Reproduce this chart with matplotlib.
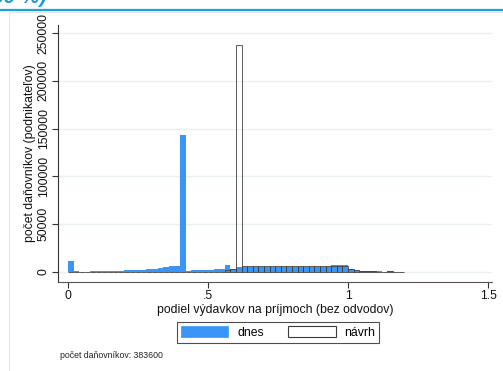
import numpy as np
import matplotlib
matplotlib.use("Agg")
import matplotlib.pyplot as plt
from matplotlib.patches import Rectangle, Patch
from matplotlib.lines import Line2D

plt.rcParams['font.family'] = ['Liberation Sans', 'DejaVu Sans']

# Histogram bins (left edges), width 0.02
bin_width = 0.02
bin_left = np.round(np.arange(0.0, 1.20, bin_width), 2)

# Number of taxpayers per bin – current rules ("dnes")
dnes = [
    11800, 1200, 300, 300, 900, 900, 1000, 1100, 1300, 1500,
    1700, 1900, 2200, 2600, 3000, 3600, 4300, 5000, 5800, 6800,
    143000, 1500, 1600, 1800, 2000, 2400, 2900, 3300, 7000, 3000,
    5000, 5600, 5500, 5600, 5700, 5600, 5500, 5600, 5700, 5600,
    5600, 5700, 5600, 5600, 5700, 5600, 5700, 7200, 7200, 7200,
    3000, 2000, 1200, 800, 800, 600, 300, 900, 300, 0,
]

# Number of taxpayers per bin – proposal ("návrh")
navrh = [
    0, 0, 0, 0, 0, 0, 0, 0, 0, 0,
    0, 0, 0, 0, 0, 0, 0, 0, 0, 0,
    0, 0, 0, 0, 0, 0, 0, 0, 2500, 3000,
    238000, 5800, 5900, 5800, 5900, 5800, 5900, 5800, 5900, 5800,
    5900, 5800, 5900, 5800, 5900, 5800, 5900, 5800, 5900, 5800,
    2800, 1800, 1000, 800, 800, 500, 300, 900, 300, 0,
]

x_ticks = [0, 0.5, 1, 1.5]
x_tick_labels = ["0", ".5", "1", "1.5"]
y_ticks = [0, 50000, 100000, 150000, 200000, 250000]
y_tick_labels = [str(v) for v in y_ticks]

total_note = "počet daňovníkov: 383600"

W, H = 503, 371
fig = plt.figure(figsize=(W / 100, H / 100), dpi=100)
fig.patch.set_facecolor("white")

# Page header: heading running off the top edge, and the blue rule
fig.text(47 / W, 1 - 3 / H, "60 %)", ha="right", va="baseline",
         color="#1a9ad6", fontsize=15, fontstyle="italic", fontweight="bold")
fig.add_artist(Line2D([0, 1], [1 - 9.5 / H, 1 - 9.5 / H], transform=fig.transFigure,
                      color="#1ba1de", lw=1.6))
fig.add_artist(Rectangle((9 / W, -0.01), 1.0, 1 - 12 / H + 0.01, transform=fig.transFigure,
                         fill=False, edgecolor="#e4e6e8", lw=0.8))

ax = fig.add_axes([58 / W, 1 - 282 / H, 434 / W, (282 - 25) / H])
ax.set_facecolor("none")

blue = "#3a96f6"
fs = 8.8
ax.bar(bin_left, dnes, width=bin_width, align="edge", color=blue, edgecolor="none", zorder=2)
ax.bar(bin_left, navrh, width=bin_width, align="edge", facecolor="none",
       edgecolor="#404040", linewidth=0.6, zorder=3)

ax.set_xlim(-0.036, 1.514)
ax.set_ylim(-10460, 258400)

ax.set_xticks(x_ticks)
ax.set_xticklabels(x_tick_labels)
ax.set_yticks(y_ticks)
ax.set_yticklabels(y_tick_labels, rotation=90, va="center")

ax.grid(axis="y", color="#e8f0f1", lw=1.0, zorder=0)
ax.set_axisbelow(True)
for side in ("top", "right"):
    ax.spines[side].set_visible(False)
ax.spines["left"].set_color("#333333")
ax.spines["bottom"].set_color("#555555")
ax.spines["left"].set_linewidth(0.8)
ax.spines["bottom"].set_linewidth(0.8)
ax.tick_params(axis="both", direction="out", length=4, width=0.8, color="#333333",
               labelsize=fs, labelcolor="#111111", pad=2)

ax.set_xlabel("podiel výdavkov na príjmoch (bez odvodov)", fontsize=fs, color="#111111", labelpad=1)
ax.set_ylabel("počet daňovníkov (podnikateľov)", fontsize=fs, color="#111111", labelpad=1)

handles = [Patch(facecolor=blue, edgecolor=blue, lw=0.5),
           Patch(facecolor="white", edgecolor="#3a3a3a", lw=0.8)]
leg = fig.legend(handles, ["dnes", "návrh"], loc="center", ncol=2,
                 bbox_to_anchor=(278 / W, 1 - 332.5 / H), frameon=True, fancybox=False,
                 fontsize=fs, handlelength=3.9, handleheight=1.0, columnspacing=2.0,
                 handletextpad=0.7, borderpad=0.35)
leg.get_frame().set_edgecolor("#222222")
leg.get_frame().set_linewidth(0.8)

fig.text(60 / W, 1 - 355 / H, total_note, fontsize=6.3, color="#222222", va="center")

fig.savefig("out.png", dpi=100)
